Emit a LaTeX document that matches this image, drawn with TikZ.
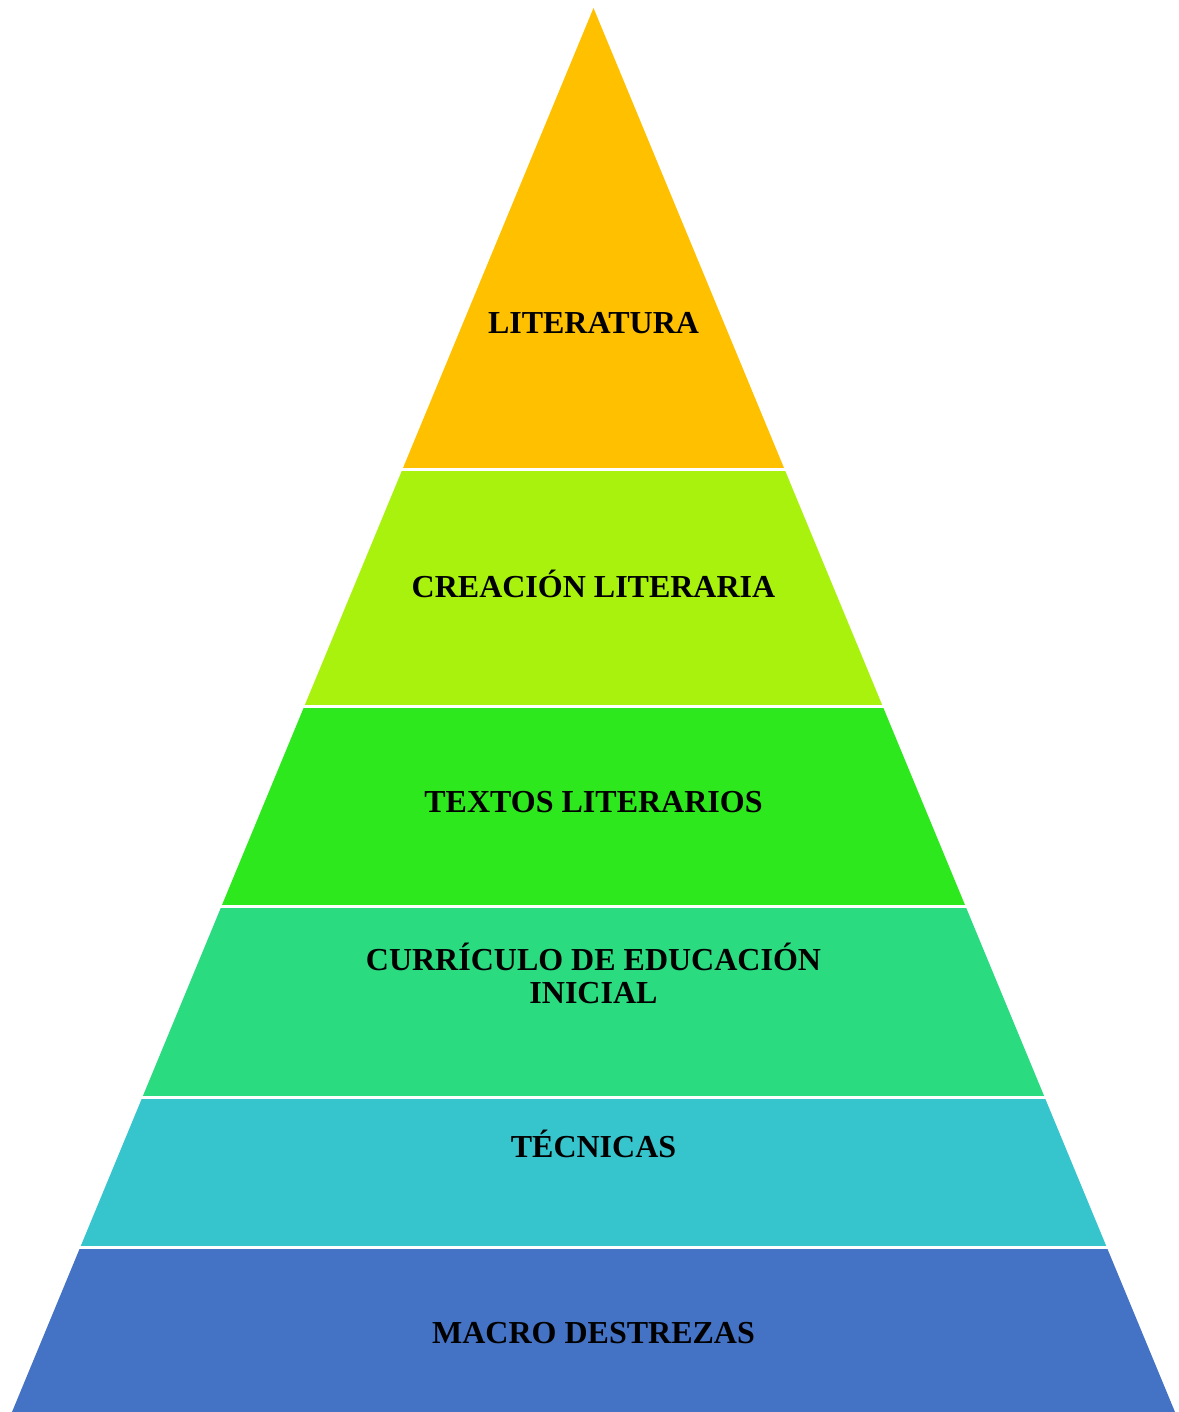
\documentclass[tikz,border=0pt]{standalone}
\usepackage{fontspec}
\setmainfont{Liberation Serif}
\usetikzlibrary{calc}
\definecolor{cLit}{HTML}{FFC000}
\definecolor{cCre}{HTML}{A8F20E}
\definecolor{cTex}{HTML}{2EE81E}
\definecolor{cCur}{HTML}{2ADB80}
\definecolor{cTec}{HTML}{36C5CD}
\definecolor{cMac}{HTML}{4472C4}
\tikzset{
  lbl/.style={font=\fontsize{32}{33}\selectfont\bfseries, text=black, align=center, inner sep=0pt, anchor=base},
  sep/.style={draw=white, line width=3pt},
}
\begin{document}
\begin{tikzpicture}[x=1pt,y=-1pt]
\useasboundingbox (0,0) rectangle (1178,1412);
\coordinate (A) at (593.5,8);
\coordinate (BL) at (12,1412);
\coordinate (BR) at (1175,1412);
\foreach \n/\t in {1/0.32835,2/0.49715,3/0.64031,4/0.77564,5/0.88248}{
  \coordinate (L\n) at ($(A)!\t!(BL)$);
  \coordinate (R\n) at ($(A)!\t!(BR)$);
}
\fill[cLit] (A) -- (R1) -- (L1) -- cycle;
\fill[cCre] (L1) -- (R1) -- (R2) -- (L2) -- cycle;
\fill[cTex] (L2) -- (R2) -- (R3) -- (L3) -- cycle;
\fill[cCur] (L3) -- (R3) -- (R4) -- (L4) -- cycle;
\fill[cTec] (L4) -- (R4) -- (R5) -- (L5) -- cycle;
\fill[cMac] (L5) -- (R5) -- (BR) -- (BL) -- cycle;
\foreach \n in {1,...,5}{
  \draw[sep] ($(L\n)+(-3,0)$) -- ($(R\n)+(3,0)$);
}
\node[lbl] (lit) at (593.5,333) {LITERATURA};
\node[lbl] (cre) at (593.5,597) {CREACIÓN LITERARIA};
\node[lbl] (tex) at (593.5,812) {TEXTOS LITERARIOS};
\node[lbl] (cur) at (593.5,1003) {CURRÍCULO DE EDUCACIÓN\\INICIAL};
\node[lbl] (tec) at (593.5,1157) {TÉCNICAS};
\node[lbl] (mac) at (593.5,1343) {MACRO DESTREZAS};
\end{tikzpicture}
\end{document}
